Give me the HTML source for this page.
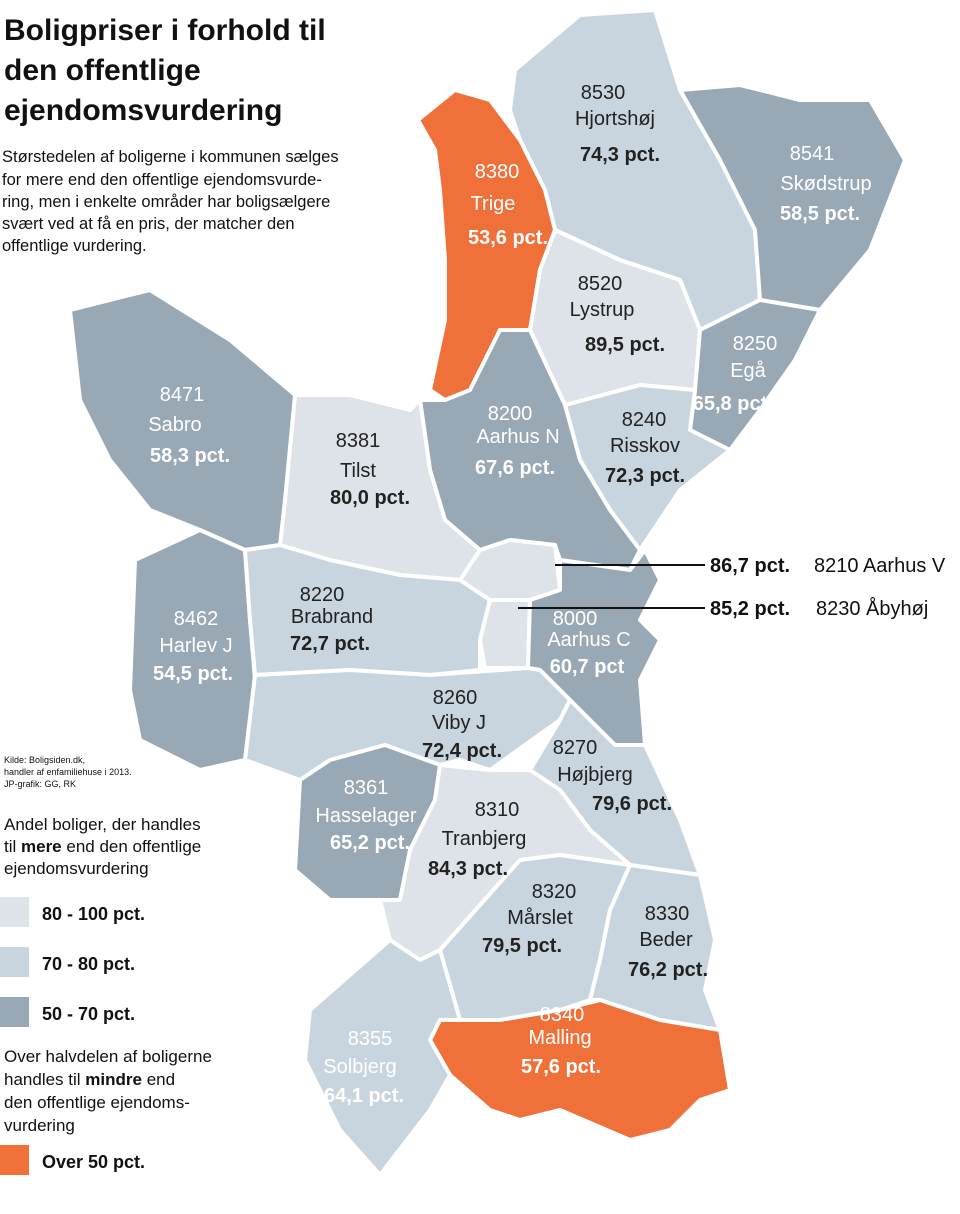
<!DOCTYPE html>
<html><head><meta charset="utf-8"><style>
body{margin:0;background:#fff;width:960px;height:1209px;overflow:hidden;font-family:"Liberation Sans",sans-serif}
svg text{font-family:"Liberation Sans",sans-serif}
</style></head><body>
<svg width="960" height="1209" viewBox="0 0 960 1209">
<g stroke="#fff" stroke-width="4" stroke-linejoin="round">
<polygon fill="#c9d5de" points="515,70 580,15 655,10 680,90 720,160 755,230 760,300 700,330 680,280 620,260 555,230 545,190 520,140 510,110"/>
<polygon fill="#98a8b5" points="680,90 740,85 800,100 870,100 905,160 870,250 820,310 760,300 755,230 720,160"/>
<polygon fill="#f0703a" points="418,120 455,90 490,100 520,140 545,190 555,230 540,270 530,330 500,330 470,390 445,400 430,390 445,320 445,260 440,190 435,150"/>
<polygon fill="#dde3e9" points="555,230 620,260 680,280 700,330 695,390 640,385 565,405 530,330 540,270"/>
<polygon fill="#98a8b5" points="700,330 760,300 820,310 795,360 760,410 730,450 690,430 695,390"/>
<polygon fill="#c9d5de" points="565,405 640,385 695,390 690,430 730,450 680,490 640,550 610,510 580,460"/>
<polygon fill="#98a8b5" points="500,330 530,330 565,405 580,460 610,510 640,550 630,570 560,560 555,545 510,540 480,550 445,520 430,470 420,400 445,400 470,390"/>
<polygon fill="#dde3e9" points="295,395 350,395 410,410 420,400 430,470 445,520 480,550 460,580 400,575 330,560 280,545 285,500"/>
<polygon fill="#98a8b5" points="70,310 150,290 230,340 295,395 285,500 280,545 245,550 200,530 150,510 110,460 80,400"/>
<polygon fill="#98a8b5" points="135,560 200,530 245,550 250,620 255,680 245,760 200,770 140,740 130,690"/>
<polygon fill="#c9d5de" points="245,550 280,545 330,560 400,575 460,580 490,600 480,640 480,670 430,675 350,670 255,675 250,620"/>
<polygon fill="#dde3e9" points="460,580 480,550 510,540 555,545 560,590 530,600 490,600"/>
<polygon fill="#dde3e9" points="490,600 530,600 528,668 485,668 480,640"/>
<polygon fill="#98a8b5" points="530,600 560,590 560,560 630,570 645,550 660,580 640,620 660,640 640,680 645,745 615,745 570,700 540,670 528,668"/>
<polygon fill="#c9d5de" points="255,675 350,670 430,675 528,668 540,670 570,700 560,720 490,770 460,760 440,765 385,745 330,760 300,780 245,760"/>
<polygon fill="#c9d5de" points="570,700 615,745 645,745 680,820 700,875 630,865 590,830 560,790 530,770 560,720"/>
<polygon fill="#98a8b5" points="300,780 330,760 385,745 440,765 435,800 410,850 400,900 380,900 330,900 295,870"/>
<polygon fill="#dde3e9" points="440,765 490,770 530,770 560,790 590,830 630,865 560,855 520,860 440,950 420,960 390,940 380,900 400,900 410,850 435,800"/>
<polygon fill="#c9d5de" points="520,860 560,855 630,865 610,910 600,960 590,1000 560,1010 500,1020 460,1020 440,950"/>
<polygon fill="#c9d5de" points="630,865 700,875 715,940 705,990 720,1030 660,1020 600,1000 590,1000 600,960 610,910"/>
<polygon fill="#f0703a" points="440,1020 500,1020 560,1010 600,1000 660,1020 720,1030 730,1090 700,1100 670,1130 630,1140 560,1110 520,1120 490,1110 450,1075 430,1040"/>
<polygon fill="#c9d5de" points="310,1010 390,940 420,960 440,950 460,1020 440,1020 430,1040 450,1075 430,1110 380,1175 340,1130 305,1060"/>
</g>
<g stroke="#111" stroke-width="2"><line x1="555" y1="565" x2="705" y2="565"/><line x1="518" y1="608" x2="705" y2="608"/></g>
<g font-size="20" text-anchor="middle" fill="#222">
<text x="603" y="99">8530</text><text x="615" y="125">Hjortshøj</text><text x="620" y="161" font-weight="bold">74,3 pct.</text>
<g fill="#fff"><text x="812" y="160">8541</text><text x="826" y="190">Skødstrup</text><text x="820" y="220" font-weight="bold">58,5 pct.</text></g>
<g fill="#fff"><text x="497" y="178">8380</text><text x="493" y="210">Trige</text><text x="508" y="244" font-weight="bold">53,6 pct.</text></g>
<text x="600" y="290">8520</text><text x="602" y="316">Lystrup</text><text x="625" y="351" font-weight="bold">89,5 pct.</text>
<g fill="#fff"><text x="755" y="350">8250</text><text x="748" y="377">Egå</text><text x="730" y="410" font-weight="bold">65,8 pct</text></g>
<text x="644" y="426">8240</text><text x="645" y="452">Risskov</text><text x="645" y="482" font-weight="bold">72,3 pct.</text>
<g fill="#fff"><text x="510" y="420">8200</text><text x="518" y="443">Aarhus N</text><text x="515" y="474" font-weight="bold">67,6 pct.</text></g>
<text x="358" y="447">8381</text><text x="358" y="477">Tilst</text><text x="370" y="504" font-weight="bold">80,0 pct.</text>
<g fill="#fff"><text x="182" y="401">8471</text><text x="175" y="431">Sabro</text><text x="190" y="462" font-weight="bold">58,3 pct.</text></g>
<g fill="#fff"><text x="196" y="625">8462</text><text x="196" y="652">Harlev J</text><text x="193" y="680" font-weight="bold">54,5 pct.</text></g>
<text x="322" y="601">8220</text><text x="332" y="623">Brabrand</text><text x="330" y="650" font-weight="bold">72,7 pct.</text>
<g fill="#fff"><text x="575" y="625">8000</text><text x="589" y="646">Aarhus C</text><text x="587" y="673" font-weight="bold">60,7 pct</text></g>
<text x="455" y="704">8260</text><text x="459" y="729">Viby J</text><text x="462" y="757" font-weight="bold">72,4 pct.</text>
<text x="575" y="754">8270</text><text x="595" y="781">Højbjerg</text><text x="632" y="810" font-weight="bold">79,6 pct.</text>
<g fill="#fff"><text x="366" y="794">8361</text><text x="366" y="822">Hasselager</text><text x="370" y="849" font-weight="bold">65,2 pct.</text></g>
<text x="497" y="816">8310</text><text x="484" y="845">Tranbjerg</text><text x="468" y="875" font-weight="bold">84,3 pct.</text>
<text x="554" y="898">8320</text><text x="540" y="924">Mårslet</text><text x="522" y="952" font-weight="bold">79,5 pct.</text>
<text x="667" y="920">8330</text><text x="666" y="946">Beder</text><text x="668" y="976" font-weight="bold">76,2 pct.</text>
<g fill="#fff"><text x="562" y="1021">8340</text><text x="560" y="1044">Malling</text><text x="561" y="1073" font-weight="bold">57,6 pct.</text></g>
<g fill="#fff"><text x="370" y="1045">8355</text><text x="360" y="1073">Solbjerg</text><text x="364" y="1102" font-weight="bold">64,1 pct.</text></g>
</g>
<g font-size="20" fill="#111">
<text x="710" y="572" font-weight="bold">86,7 pct.</text><text x="814" y="572">8210  Aarhus V</text>
<text x="710" y="615" font-weight="bold">85,2 pct.</text><text x="816" y="615">8230  Åbyhøj</text>
</g>
<g fill="#111">
<text x="4" y="40" font-size="30" font-weight="bold">Boligpriser i forhold til</text>
<text x="4" y="80" font-size="30" font-weight="bold">den offentlige</text>
<text x="4" y="120" font-size="30" font-weight="bold">ejendomsvurdering</text>
<g font-size="16.5"><text x="2" y="162">Størstedelen af boligerne i kommunen sælges</text>
<text x="2" y="185">for mere end den offentlige ejendomsvurde-</text>
<text x="2" y="207">ring, men i enkelte områder har boligsælgere</text>
<text x="2" y="229">svært ved at få en pris, der matcher den</text>
<text x="2" y="251">offentlige vurdering.</text></g>
<g font-size="9"><text x="4" y="763">Kilde: Boligsiden.dk,</text><text x="4" y="775">handler af enfamiliehuse i 2013.</text><text x="4" y="787">JP-grafik: GG, RK</text></g>
<g font-size="17"><text x="4" y="830">Andel boliger, der handles</text><text x="4" y="852">til <tspan font-weight="bold">mere</tspan> end den offentlige</text><text x="4" y="874">ejendomsvurdering</text>
<text x="4" y="1062">Over halvdelen af boligerne</text><text x="4" y="1085">handles til <tspan font-weight="bold">mindre</tspan> end</text><text x="4" y="1108">den offentlige ejendoms-</text><text x="4" y="1131">vurdering</text></g>
<rect x="0" y="897" width="29" height="30" fill="#dde3e9"/><rect x="0" y="947" width="29" height="30" fill="#c9d5de"/><rect x="0" y="997" width="29" height="30" fill="#98a8b5"/><rect x="0" y="1145" width="29" height="30" fill="#f0703a"/>
<g font-size="18" font-weight="bold"><text x="42" y="920">80 - 100 pct.</text><text x="42" y="970">70 - 80 pct.</text><text x="42" y="1020">50 - 70 pct.</text><text x="42" y="1168">Over 50 pct.</text></g>
</g>
</svg>
</body></html>
